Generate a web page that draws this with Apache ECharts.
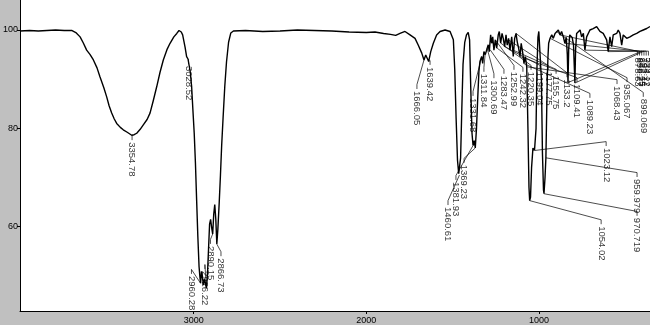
<!DOCTYPE html>
<html>
<head>
<meta charset="utf-8">
<script src="https://cdn.jsdelivr.net/npm/echarts@6/dist/echarts.min.js"></script>
<style>
html,body{margin:0;padding:0;background:#c0c0c0;}
#chart{width:650px;height:325px;}
</style>
</head>
<body>
<div id="chart"></div>
<script>
// Spectrum (wavenumber cm-1, %T)
const wavenumbers = [4006,3950,3900,3850,3800,3750,3707,3680,3658,3640,3620,3600,3581,3560,3543,3520,3504,3490,3475,3460,3446,3425,3408,3385,3359,3345,3330,3310,3292,3270,3253,3235,3214,3195,3176,3155,3137,3115,3098,3085,3072,3064,3050,3041,3033,3027,3020,3012,3005,2997,2990,2983,2976,2969,2964,2960,2955,2950,2944,2938,2932,2926,2920,2914,2908,2902,2896,2890,2884,2878,2872,2866,2860,2852,2845,2838,2830,2820,2810,2798,2785,2770,2700,2600,2500,2400,2300,2200,2100,2000,1950,1900,1860,1830,1805,1776,1747,1718,1699,1679,1666,1656,1650,1639,1627,1612,1593,1573,1544,1515,1496,1488,1480,1472,1465,1460,1454,1447,1440,1430,1420,1410,1402,1395,1388,1382,1375,1369,1362,1355,1348,1342,1332,1326,1319,1311,1307,1300,1294,1288,1280,1274,1268,1261,1253,1245,1236,1230,1222,1214,1207,1199,1191,1184,1176,1168,1158,1149,1141,1133,1126,1118,1110,1103,1094,1087,1079,1071,1064,1058,1054,1049,1043,1035,1026,1017,1012,1006,1001,994,986,980,974,971,965,960,957,952,948,944,936,926,917,907,897,888,878,869,859,850,842,836,832,828,822,815,808,800,796,792,788,782,772,762,753,743,734,724,705,686,666,647,628,608,599,589,579,570,550,541,531,521,512,502,492,473,454,434,415,396,376,357];
const transmittance = [99.8,99.9,99.8,99.9,100,99.9,99.9,99.4,98.6,97.4,95.9,95.0,93.9,92.3,90.5,88.2,86.4,84.6,83.1,81.9,81.0,80.2,79.7,79.2,78.6,78.7,79.0,79.8,80.7,81.8,83.1,85.5,88.5,91.4,93.9,96.0,97.3,98.6,99.3,99.9,99.6,99.0,96.5,94.6,94.1,93.9,91.5,88.5,84,79,73,65.4,58,51.9,49.8,48.5,50.9,50.0,48.1,49.3,48.5,47.5,50.5,55.5,60.5,61.5,59.8,58.5,62.5,64.5,61.5,56.5,59.5,65,70.5,76.5,82,88.5,93.5,97.5,99.4,99.8,99.9,99.7,99.8,100,99.9,99.8,99.6,99.5,99.6,99.3,99.1,98.9,99.3,99.7,99.0,98.3,96.9,95.3,93.9,94.9,95.3,93.6,95.6,97.3,99.0,99.7,100,99.7,98.0,92,82,73.5,70.8,70.5,74,84,93,97.5,99,99.5,98,88,79,76.5,77.5,76,80,86,91.5,93.6,94.6,93.2,95.6,95.0,95.3,96.3,97.0,95.6,99.0,97.3,98.6,95.9,98.0,96.3,99.0,99.7,97.3,99.3,98.3,96.6,99.0,96.9,98.3,95.9,98.6,94.6,98.3,99.3,97.6,96.3,94.6,97.3,95.3,93.2,94.6,92.5,80,68,65.3,66,72,76,75.5,80,92,98.5,99.7,99.3,90,75,67.5,66.7,70,74,80,90,94.5,97.3,98.3,99.0,98.3,99.3,99.7,100,99.0,99.7,98.6,97.3,98.5,95,89.3,96,99,99.4,98.5,97,93,89.2,96,99.3,99.7,100,98.6,99.3,95.9,98.6,100,100.3,100.7,99.7,99.3,98.0,95.6,98.6,96.6,99.0,99.3,100,99.3,96.9,99.0,98.6,98.3,98.6,99.0,99.3,99.7,100,100.3,100.7];

// Peak labels
const peakLabels = ['3354.78','3028.52','2960.28','2926.22','2890.15','2866.73','1666.05','1639.42','1460.61','1381.93','1369.23','1331.68','1311.84','1300.69','1283.47','1252.99','1242.32','1220.35','1199.04','1177.75','1155.75','1133.2','1109.41','1089.23','1068.43','1054.02','1023.12','970.719','959.979','935.067','899.069','878.63','850.27','832.15','792.44','734.12','599.37'];
const peakWavenumbers = [3354.78,3028.52,2960.28,2926.22,2890.15,2866.73,1666.05,1639.42,1460.61,1381.93,1369.23,1331.68,1311.84,1300.69,1283.47,1252.99,1242.32,1220.35,1199.04,1177.75,1155.75,1133.2,1109.41,1089.23,1068.43,1054.02,1023.12,970.719,959.979,935.067,899.069,878.63,850.27,832.15,792.44,734.12,599.37];
const peakTransmittance = [78.6,93.9,48.5,47.5,58.5,56.5,93.9,93.6,70.5,76.5,76,94.6,95.0,96.3,96,98,96.3,97.3,96.6,98,96,99.3,94.6,93.2,92.5,65.3,75.5,66.7,74,98.3,99.7,99.0,97.3,89.3,89.2,95.9,95.6];

// Label placement (layout, in axis units)
const labelAnchorW = [3357,3030,3013,2935,2903,2842,1707,1631,1527,1481,1434,1382,1319,1261,1203,1145,1093,1046,994,947,901,838,780,705,548,640,611,432,432,490,396,430,418,405,392,379,366];
const labelAnchorT = [77.6,93.1,50.4,51.4,56.5,54.0,88.0,92.9,64.4,69.5,73.0,86.6,91.5,90.2,91.1,91.9,91.5,91.9,91.9,91.9,91.1,90.4,89.4,86.2,89.0,60.5,76.4,62.2,70.1,89.4,86.4,94.8,94.8,94.8,94.8,94.8,94.8];

const xTicks = [3000, 2000, 1000];
const yTicks = [60, 80, 100];

const chart = echarts.init(document.getElementById('chart'), null, {renderer: 'canvas'});
const spectrum = wavenumbers.map((w, i) => [w, transmittance[i]]);
const leaders = peakLabels.map((t, i) => ({
  coords: [[peakWavenumbers[i], peakTransmittance[i]], [labelAnchorW[i], labelAnchorT[i] + 0.9], [labelAnchorW[i], labelAnchorT[i]]]
}));
const tags = peakLabels.map((t, i) => [labelAnchorW[i], labelAnchorT[i], t]);
const font = 'Liberation Sans, Arial, sans-serif';

chart.setOption({
  animation: false,
  backgroundColor: '#c0c0c0',
  grid: {left: 20, right: 0, top: 0, bottom: 14, show: true, backgroundColor: '#ffffff', borderWidth: 0},
  xAxis: {
    type: 'value', inverse: true, min: 357, max: 4006,
    axisLine: {show: true, onZero: false, lineStyle: {color: '#000', width: 1}},
    axisTick: {show: true, length: 3, customValues: xTicks, lineStyle: {color: '#000'}},
    axisLabel: {customValues: xTicks, formatter: v => String(v), color: '#000', fontSize: 9, margin: 5, fontFamily: font},
    splitLine: {show: false}
  },
  yAxis: {
    type: 'value', min: 42.85, max: 106.1,
    axisLine: {show: true, onZero: false, lineStyle: {color: '#000', width: 1}},
    axisTick: {show: true, length: 3, customValues: yTicks, lineStyle: {color: '#000'}},
    axisLabel: {customValues: yTicks, formatter: v => String(v), color: '#000', fontSize: 9, margin: 2, fontFamily: font},
    splitLine: {show: false}
  },
  series: [
    {
      type: 'line', data: spectrum, showSymbol: false, symbol: 'none',
      lineStyle: {color: '#000', width: 1.4}, z: 3
    },
    {
      type: 'lines', coordinateSystem: 'cartesian2d', polyline: true, data: leaders,
      lineStyle: {color: '#000', width: 0.7, opacity: 1}, z: 2, silent: true
    },
    {
      type: 'scatter', data: tags, symbolSize: 0, z: 4,
      label: {
        show: true, formatter: p => p.value[2], position: [0, 0], rotate: -90,
        align: 'left', verticalAlign: 'middle', padding: [0, 0, 0, 2],
        color: '#000', fontSize: 9.5, fontFamily: font
      }
    }
  ]
});
</script>
</body>
</html>
